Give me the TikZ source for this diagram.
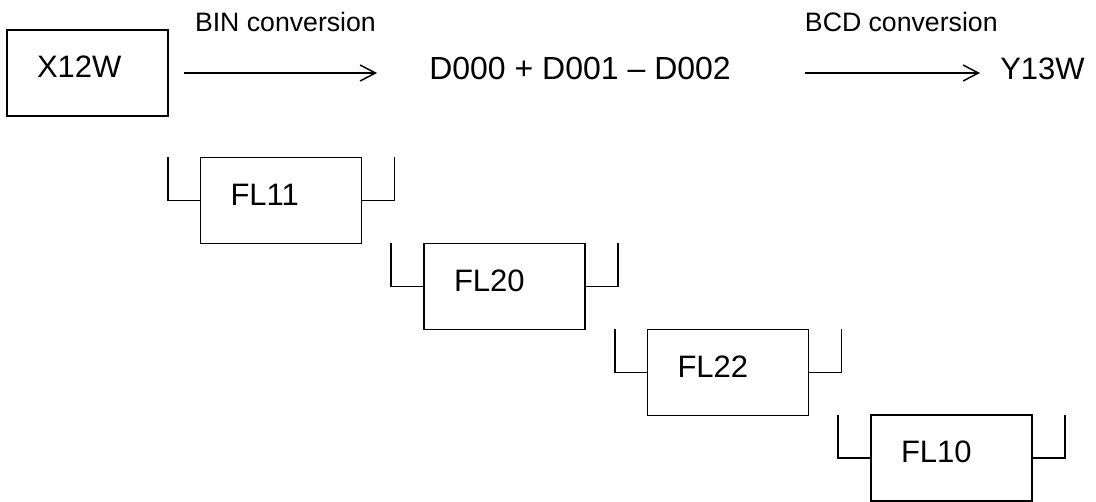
\documentclass[tikz,border=0pt]{standalone}
\usepackage{fontspec}
\setmainfont{Liberation Sans}
\usetikzlibrary{arrows.meta,positioning}

\begin{document}
\begin{tikzpicture}[x=0.75pt, y=-0.75pt,
  blk/.style={draw, line width=1.4pt, minimum width=120.75pt, minimum height=64.5pt,
    text width=75.75pt, inner xsep=22.5pt, align=left, text depth=9pt,
    font=\fontsize{23.25}{28}\selectfont},
  txt/.style={inner sep=0pt, font=\fontsize{23.25}{28}\selectfont},
  lbl/.style={inner sep=0pt, font=\fontsize{20}{24}\selectfont},
  conv/.style={line width=1.1pt, -{Straight Barb[length=11.5pt, width=12pt, line width=1.1pt]}},
  brk/.style={line width=1.4pt}]
  \useasboundingbox (0,0) rectangle (1096,502);
  % top line
  \node[blk] (x12w) at (87.5,73) {X12W};
  \node[txt, anchor=base west, font=\fontsize{24}{28}\selectfont] (sum) at (429,80) {D000 + D001 -- D002};
  \node[txt, anchor=base west] (y13w) at (1000,80) {Y13W};
  \draw[conv, shorten <=11.25pt, shorten >=39pt] (x12w.east) -- (x12w.east -| sum.west)
    node[lbl, pos=0.448, above=30.75pt] {BIN conversion};
  \draw[conv, shorten <=55.5pt, shorten >=15pt] (x12w.east -| sum.east) -- (x12w.east -| y13w.west)
    node[lbl, pos=0.633, above=30.75pt] {BCD conversion};
  % instruction blocks
  \node[blk] (fl11) at (281,200.5) {FL11};
  \node[blk] (fl20) at (504.5,286.5) {FL20};
  \node[blk] (fl22) at (728,372.5) {FL22};
  \node[blk] (fl10) at (951.5,458) {FL10};
  \draw[brk] (fl11.west) -- ++(-24pt,0) -- ++(0,32.25pt);
  \draw[brk] (fl11.east) -- ++(24pt,0) -- ++(0,32.25pt);
  \draw[brk] (fl20.west) -- ++(-24pt,0) -- ++(0,32.25pt);
  \draw[brk] (fl20.east) -- ++(24pt,0) -- ++(0,32.25pt);
  \draw[brk] (fl22.west) -- ++(-24pt,0) -- ++(0,32.25pt);
  \draw[brk] (fl22.east) -- ++(24pt,0) -- ++(0,32.25pt);
  \draw[brk] (fl10.west) -- ++(-24pt,0) -- ++(0,32.25pt);
  \draw[brk] (fl10.east) -- ++(24pt,0) -- ++(0,32.25pt);
\end{tikzpicture}
\end{document}
